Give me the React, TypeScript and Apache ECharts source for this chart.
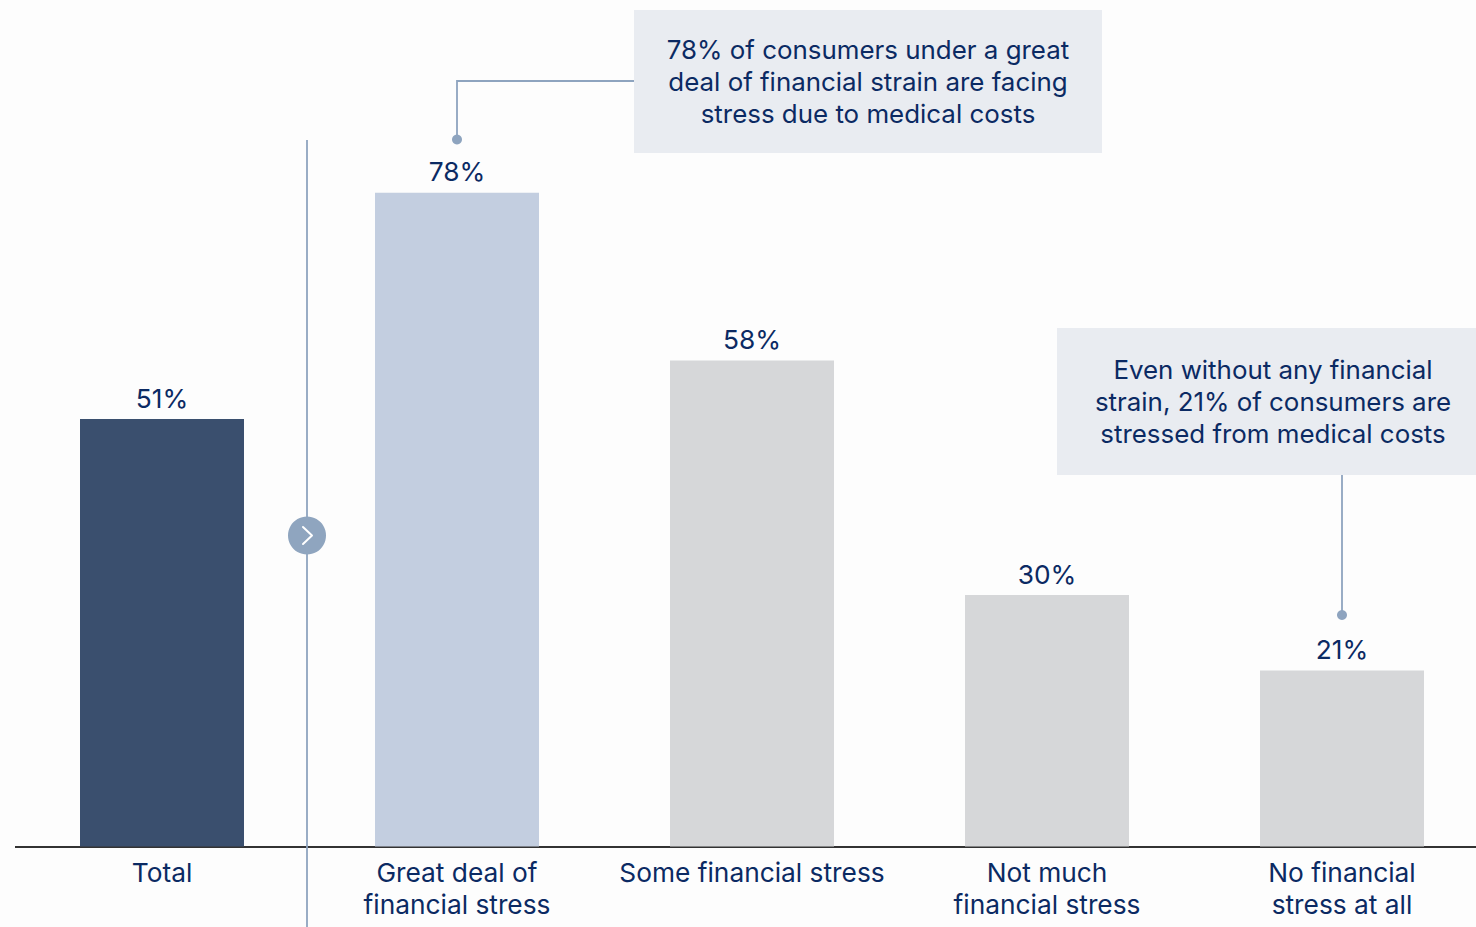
import React, { useEffect, useRef } from "react";
import * as echarts from "echarts";

const categories = ["Total", "Great deal of\nfinancial stress", "Some financial stress", "Not much\nfinancial stress", "No financial\nstress at all"];
const shares = [51, 78, 58, 30, 21];
const barColors = ["#3a4f6e", "#c3cee0", "#d6d7d9", "#d6d7d9", "#d6d7d9"];
const strainNote = ["78% of consumers under a great", "deal of financial strain are facing", "stress due to medical costs"];
const noStrainNote = ["Even without any financial", "strain, 21% of consumers are", "stressed from medical costs"];

const INK = "#0b2a63";
const LEADER = "#8ea4bf";
const PANEL = "#e9ecf1";
const FONT = "Inter";
const SIZE = 26.3;
const NOTE_SIZE = 25.9;

function note(lines: string[], cx: number, firstY: number) {
  return lines.map((text, i) => ({
    type: "text",
    x: cx,
    y: firstY + i * 32,
    z: 12,
    style: { text, fill: INK, font: `${NOTE_SIZE}px ${FONT}`, textAlign: "center", textVerticalAlign: "middle" },
  }));
}

export default function App() {
  const ref = useRef<HTMLDivElement>(null);

  useEffect(() => {
    document.body.style.margin = "0";
    const chart = echarts.init(ref.current!, undefined, { renderer: "svg" });
    chart.setOption({
      animation: false,
      backgroundColor: "#fdfdfd",
      // The last category band runs past the right edge of the page, so the canvas is wider than the visible frame.
      grid: { left: 14.5, right: 10.5, top: 8.5, bottom: 80.5, containLabel: false },
      xAxis: {
        type: "category",
        data: categories,
        axisLine: { lineStyle: { color: "#333333", width: 2 } },
        axisTick: { show: false },
        axisLabel: { color: INK, fontFamily: FONT, fontSize: SIZE, lineHeight: 32, margin: 10, interval: 0, verticalAlign: "top" },
      },
      yAxis: { type: "value", min: 0, max: 100, show: false },
      series: [
        {
          type: "bar",
          barWidth: 164,
          data: shares.map((value, i) => ({ value, itemStyle: { color: barColors[i] } })),
          label: { show: true, position: "top", distance: 8, formatter: "{c}%", color: INK, fontFamily: FONT, fontSize: SIZE },
        },
      ],
    });

    // Annotations are anchored to the bars they refer to.
    const xOf = (i: number) => chart.convertToPixel({ xAxisIndex: 0 }, i) as number;
    const xDivider = xOf(0) + 145;
    const xGreat = xOf(1);
    const xNone = xOf(4);
    chart.setOption({
      graphic: [
        // Keeps the axis from starting before the first band.
        { type: "rect", z: 9, shape: { x: 0, y: 840, width: 15, height: 12 }, style: { fill: "#fdfdfd" } },
        { type: "line", z: 10, shape: { x1: xDivider, y1: 140, x2: xDivider, y2: 927 }, style: { stroke: LEADER, lineWidth: 1.8 } },
        { type: "circle", z: 11, shape: { cx: xDivider, cy: 535.5, r: 19 }, style: { fill: "#8fa5bf" } },
        {
          type: "polyline",
          z: 12,
          shape: { points: [[xDivider - 4, 527], [xDivider + 5, 535.5], [xDivider - 4, 544]] },
          style: { stroke: "#ffffff", lineWidth: 2, fill: "none", lineCap: "round", lineJoin: "round" },
        },
        { type: "rect", z: 11, shape: { x: 634, y: 10, width: 468, height: 143 }, style: { fill: PANEL } },
        { type: "polyline", z: 10, shape: { points: [[634, 81], [xGreat, 81], [xGreat, 139]] }, style: { stroke: LEADER, lineWidth: 1.8, fill: "none" } },
        { type: "circle", z: 11, shape: { cx: xGreat, cy: 139.5, r: 5 }, style: { fill: LEADER } },
        ...note(strainNote, 868, 49.5),
        { type: "rect", z: 11, shape: { x: 1057, y: 328, width: 419, height: 147 }, style: { fill: PANEL } },
        { type: "line", z: 10, shape: { x1: xNone, y1: 475, x2: xNone, y2: 615 }, style: { stroke: LEADER, lineWidth: 1.8 } },
        { type: "circle", z: 11, shape: { cx: xNone, cy: 615, r: 5 }, style: { fill: LEADER } },
        ...note(noStrainNote, 1273, 369.5),
      ],
    });
    return () => chart.dispose();
  }, []);

  return (
    <div style={{ width: 1476, height: 927, overflow: "hidden" }}>
      <div ref={ref} style={{ width: 1500, height: 927 }} />
    </div>
  );
}
